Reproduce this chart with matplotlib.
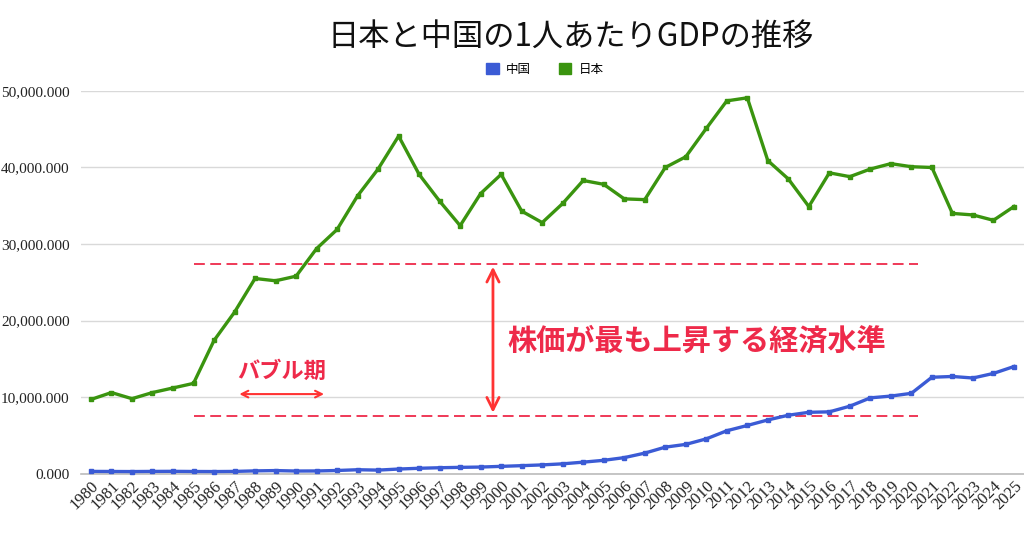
"""日本と中国の1人あたりGDPの推移 — line chart with bubble-era annotations."""

import matplotlib

matplotlib.use("Agg")
import matplotlib.pyplot as plt
from matplotlib.patches import Patch
from matplotlib.ticker import FuncFormatter

years = list(range(1980, 2026))

japan = [
    9.7, 10.6, 9.8, 10.6, 11.2, 11.8, 17.4, 21.1, 25.5, 25.2,
    25.8, 29.4, 31.9, 36.3, 39.8, 44.1, 39.1, 35.6, 32.4, 36.6,
    39.1, 34.3, 32.8, 35.3, 38.3, 37.8, 35.9, 35.8, 40.0, 41.4,
    45.1, 48.7, 49.1, 40.9, 38.5, 34.9, 39.3, 38.8, 39.8, 40.5,
    40.1, 40.0, 34.0, 33.8, 33.1, 34.9,
]
china = [
    0.30, 0.29, 0.28, 0.30, 0.31, 0.29, 0.28, 0.30, 0.37, 0.41,
    0.35, 0.36, 0.42, 0.52, 0.47, 0.61, 0.71, 0.78, 0.83, 0.87,
    0.96, 1.05, 1.15, 1.29, 1.51, 1.75, 2.10, 2.69, 3.47, 3.83,
    4.55, 5.61, 6.30, 7.02, 7.64, 8.02, 8.08, 8.82, 9.91, 10.14,
    10.50, 12.60, 12.70, 12.50, 13.10, 14.00,
]
japan = [v * 1000 for v in japan]
china = [v * 1000 for v in china]

# annotation levels
upper_level = 27400
lower_level = 7600
band_years = (1985, 2020.3)
arrow_year = 1999.6
bubble_years = (1987.1, 1991.5)
bubble_level = 10400

blue = "#3b5bd5"
green = "#3a940f"
red = "#ee2a4a"

plt.rcParams["font.family"] = ["Noto Sans CJK JP", "DejaVu Sans"]

fig = plt.figure(figsize=(10.24, 5.38), dpi=100)
ax = fig.add_axes([0.079, 0.1195, 0.921, 0.7115])

ax.plot(years, china, color=blue, lw=2.4, marker="s", ms=3.5, clip_on=False, zorder=4)
ax.plot(years, japan, color=green, lw=2.4, marker="s", ms=3.5, clip_on=False, zorder=4)

ax.set_xlim(1979.51, 2025.49)
ax.set_ylim(0, 50000)
ax.set_yticks(range(0, 50001, 10000))
ax.yaxis.set_major_formatter(FuncFormatter(lambda v, _: f"{v:,.3f}"))
ax.set_xticks(years)
ax.set_xticklabels([str(y) for y in years], rotation=45, ha="right", rotation_mode="anchor")

for lab in ax.get_xticklabels():
    lab.set_fontfamily("Liberation Serif")
    lab.set_fontsize(12)
    lab.set_color("#222222")
for lab in ax.get_yticklabels():
    lab.set_fontfamily("Liberation Serif")
    lab.set_fontsize(11)
    lab.set_color("#222222")

ax.grid(axis="y", color="#d9d9d9", lw=1)
ax.set_axisbelow(True)
for s in ("top", "right", "left"):
    ax.spines[s].set_visible(False)
ax.spines["bottom"].set_color("#bbbbbb")
ax.spines["bottom"].set_linewidth(1.2)
ax.tick_params(axis="both", length=0)
ax.tick_params(axis="x", pad=3)
ax.tick_params(axis="y", pad=8)

# dashed band
for lvl in (upper_level, lower_level):
    ax.plot(band_years, [lvl, lvl], color=red, lw=1.3, ls=(0, (6, 3)), zorder=3)

ax.annotate("", xy=(arrow_year, lower_level), xytext=(arrow_year, upper_level),
            arrowprops=dict(arrowstyle="<->", color="#ff3333", lw=2, mutation_scale=22))
ax.text(2000.3, 17400, "株価が最も上昇する経済水準", color=red, fontsize=21,
        fontweight="bold", va="center", ha="left")

ax.annotate("", xy=(bubble_years[0], bubble_level), xytext=(bubble_years[1], bubble_level),
            arrowprops=dict(arrowstyle="<->", color="#ff3333", lw=1.5, mutation_scale=12))
ax.text(sum(bubble_years) / 2, 13300, "バブル期", color=red, fontsize=16,
        fontweight="bold", va="center", ha="center")

fig.text(0.557, 0.932, "日本と中国の1人あたりGDPの推移", fontsize=22.5, ha="center", va="center",
         color="#111111")
fig.legend(handles=[Patch(color=blue, label="中国"), Patch(color=green, label="日本")],
           loc="center", bbox_to_anchor=(0.532, 0.871), ncol=2, frameon=False, fontsize=9,
           handlelength=1.0, handleheight=1.0, columnspacing=2.2, handletextpad=0.6)

fig.savefig("out.png", dpi=100)
